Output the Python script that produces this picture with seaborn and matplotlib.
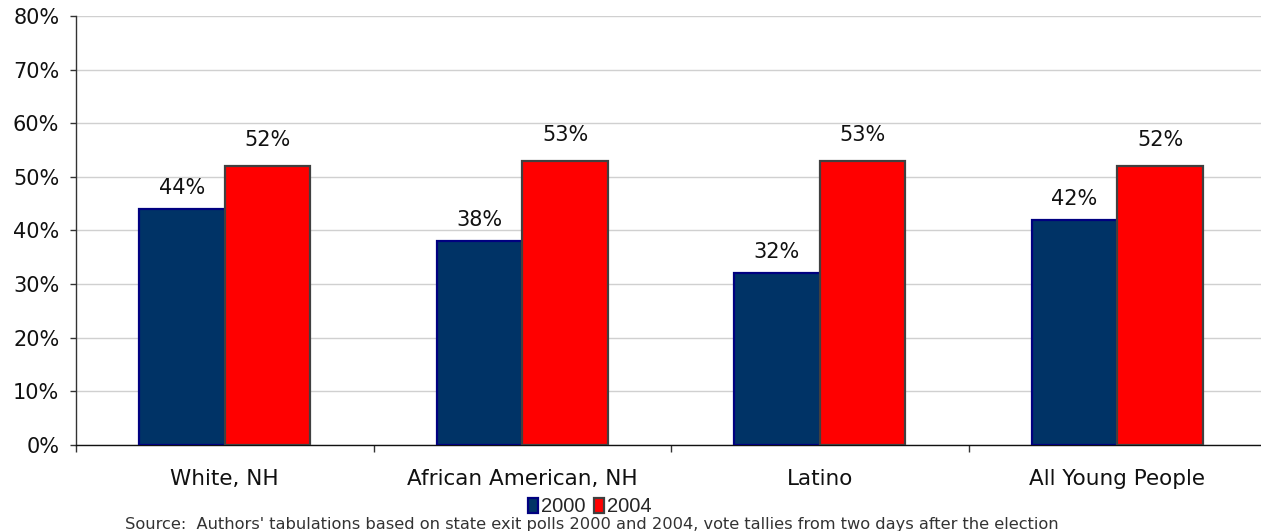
import matplotlib
matplotlib.use("Agg")
import matplotlib.pyplot as plt
from matplotlib.patches import Patch
from matplotlib.ticker import FixedLocator, FuncFormatter
import pandas as pd
import seaborn as sns

# Youth turnout by race/ethnicity, 2000 vs 2004
groups = ["White, NH", "African American, NH", "Latino", "All Young People"]
years = ["2000", "2004"]
turnout_2000 = [44, 38, 32, 42]
turnout_2004 = [52, 53, 53, 52]
source_note = ("Source:  Authors' tabulations based on state exit polls 2000 and 2004, "
               "vote tallies from two days after the election")

fills = {"2000": "#003366", "2004": "#FF0000"}
edges = {"2000": "#000080", "2004": "#404040"}
label_pad = {"2000": 8, "2004": 11.5}

df = pd.DataFrame({
    "group": groups * 2,
    "year": [years[0]] * len(groups) + [years[1]] * len(groups),
    "turnout": turnout_2000 + turnout_2004,
})

sns.set_theme(style="white")
plt.rcParams["font.family"] = ["DejaVu Sans"]

W, H = 1261, 531
fig = plt.figure(figsize=(W / 100, H / 100), dpi=100)
ax = fig.add_axes([76 / W, 1 - 445 / H, (1266 - 76) / W, (445 - 16) / H])

sns.barplot(data=df, x="group", y="turnout", hue="year", order=groups,
            hue_order=years, palette=fills, width=0.575, saturation=1,
            legend=False, ax=ax, zorder=3)

for year, cont in zip(years, ax.containers):
    for bar in cont:
        bar.set_edgecolor(edges[year])
        bar.set_linewidth(1.6)
    ax.bar_label(cont, labels=[f"{v:.0f}%" for v in cont.datavalues],
                 padding=label_pad[year], fontsize=15, color="#111111")

ax.set_ylim(0, 80)
ax.set_xlim(-0.5, len(groups) - 0.5)
ax.yaxis.set_major_locator(FixedLocator(range(0, 81, 10)))
ax.yaxis.set_major_formatter(FuncFormatter(lambda v, _: f"{v:.0f}%"))
ax.grid(axis="y", color="#d0d0d0", linewidth=1.0, zorder=0)
ax.set_axisbelow(True)

ax.set_xlabel("")
ax.set_ylabel("")
ax.tick_params(axis="y", which="major", direction="out", length=4, width=1,
               color="#333333", labelsize=15, labelcolor="#111111", pad=8, left=True)
ax.tick_params(axis="x", which="major", length=0, labelsize=15.5,
               labelcolor="#111111", pad=17)
ax.xaxis.set_minor_locator(FixedLocator([i - 0.5 for i in range(len(groups))]))
ax.tick_params(axis="x", which="minor", direction="out", length=5, width=1,
               color="#333333", bottom=True)

for side in ("top", "right"):
    ax.spines[side].set_visible(False)
ax.spines["left"].set_color("#333333")
ax.spines["bottom"].set_color("#111111")
ax.spines["left"].set_linewidth(1)
ax.spines["bottom"].set_linewidth(1)

handles = [Patch(facecolor=fills[y], edgecolor=edges[y], linewidth=1.6, label=y)
           for y in years]
fig.legend(handles=handles, loc="center", bbox_to_anchor=(590 / W, 1 - 507 / H),
           ncol=2, frameon=False,
           prop={"family": ["Liberation Sans", "DejaVu Sans"], "size": 14.5},
           handlelength=0.5, handleheight=0.8, handletextpad=0.15,
           columnspacing=0.4, borderpad=0, borderaxespad=0)

fig.text(125 / W, 1 - 529 / H, source_note, fontsize=11.7, color="#333333",
         ha="left", va="baseline")

fig.savefig("out.png", dpi=100)
